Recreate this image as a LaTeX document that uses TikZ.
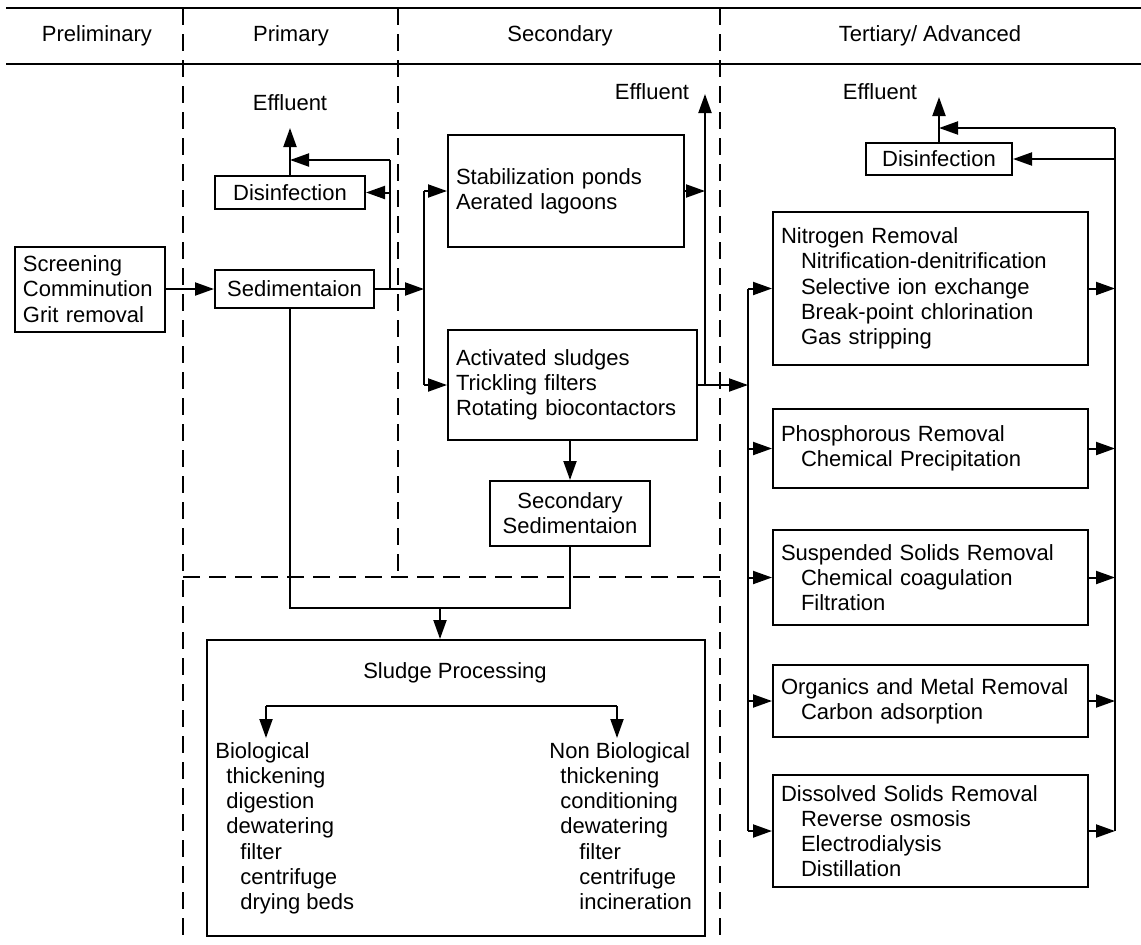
\documentclass[tikz,border=0pt]{standalone}
\usepackage{fontspec}
\setmainfont{Liberation Sans}
\usetikzlibrary{arrows.meta}
\tikzset{
  lbox/.style={draw, line width=1pt, align=left, inner xsep=4pt, inner ysep=0pt},
  cbox/.style={draw, line width=1pt, align=center, inner sep=0pt},
  arr/.style={line width=1pt, -{Triangle[length=9.5pt,width=6.5pt]}},
  ln/.style={line width=1pt},
  sep/.style={line width=1pt, dash pattern=on 8.5pt off 4.5pt},
}
\begin{document}
\begin{tikzpicture}[x=0.5pt, y=-0.5pt, font=\fontsize{11}{12.6}\selectfont]
\useasboundingbox (0,0) rectangle (1141,944);
% 表头
\draw[ln] (6,8) -- (1141,8);
\draw[ln] (6,64) -- (1141,64);
\draw[sep] (183,8) -- (183,944);
\draw[sep] (398,8) -- (398,577);
\draw[sep] (720,8) -- (720,944);
\draw[sep] (183,577) -- (720,577);
\node (hpre) at (97,36) {Preliminary};
\node (hpri) at (291,36) {Primary};
\node (hsec) at (560,36) {Secondary};
\node (hter) at (930,36) {Tertiary/ Advanced};
% 预处理和一级
\node[lbox, text width=67pt, minimum height=42.5pt] (scr) at (90,289) {Screening\\Comminution\\Grit removal};
\node[cbox, minimum width=79.5pt, minimum height=19pt] (sed1) at (294.5,289) {Sedimentaion};
\node[cbox, minimum width=75pt, minimum height=16.5pt] (dis1) at (290,192.5) {Disinfection};
\node (eff1) at (290,103) {Effluent};
% 二级
\node[lbox, text width=110pt, minimum height=56pt] (stab) at (566,191) {Stabilization ponds\\Aerated lagoons};
\node[lbox, text width=116.5pt, minimum height=55pt] (act) at (572.5,385) {Activated sludges\\Trickling filters\\Rotating biocontactors};
\node[cbox, minimum width=80pt, minimum height=32.5pt] (sed2) at (570,513.5) {Secondary\\Sedimentaion};
\node (eff2) at (652,92) {Effluent};
% 三级
\node[cbox, minimum width=73pt, minimum height=16pt] (dis3) at (939,159) {Disinfection};
\node (eff3) at (880,92) {Effluent};
\node[lbox, text width=149.5pt, minimum height=76.5pt] (nit) at (930.5,288.5) {Nitrogen Removal\\\hspace*{10pt}Nitrification-denitrification\\\hspace*{10pt}Selective ion exchange\\\hspace*{10pt}Break-point chlorination\\\hspace*{10pt}Gas stripping};
\node[lbox, text width=149.5pt, minimum height=39.5pt] (pho) at (930.5,448.5) {Phosphorous Removal\\\hspace*{10pt}Chemical Precipitation};
\node[lbox, text width=149.5pt, minimum height=47.5pt] (sus) at (930.5,577.5) {Suspended Solids Removal\\\hspace*{10pt}Chemical coagulation\\\hspace*{10pt}Filtration};
\node[lbox, text width=149.5pt, minimum height=36pt] (org) at (930.5,701) {Organics and Metal Removal\\\hspace*{10pt}Carbon adsorption};
\node[lbox, text width=149.5pt, minimum height=56pt] (dsv) at (930.5,831) {Dissolved Solids Removal\\\hspace*{10pt}Reverse osmosis\\\hspace*{10pt}Electrodialysis\\\hspace*{10pt}Distillation};
% 污泥处理
\node[draw, line width=1pt, inner sep=0pt, minimum width=249pt, minimum height=148pt] (sludge) at (456,788) {};
\node (sptitle) at (455,673) {Sludge Processing};
\node[anchor=north west, align=left, inner sep=0pt] (bio) at (215,742) {Biological\\\hspace*{5.5pt}thickening\\\hspace*{5.5pt}digestion\\\hspace*{5.5pt}dewatering\\\hspace*{12.5pt}filter\\\hspace*{12.5pt}centrifuge\\\hspace*{12.5pt}drying beds};
\node[anchor=north west, align=left, inner sep=0pt] (nbio) at (549,742) {Non Biological\\\hspace*{5.5pt}thickening\\\hspace*{5.5pt}conditioning\\\hspace*{5.5pt}dewatering\\\hspace*{15pt}filter\\\hspace*{15pt}centrifuge\\\hspace*{15pt}incineration};
% 连线：一级
\coordinate (ja) at (390,289);
\coordinate (jb) at (424,289);
\coordinate (jc) at (390,160);
\coordinate (out1) at (290,128);
\draw[arr] (scr.east |- sed1.west) -- (sed1.west);
\draw[arr] (sed1.east) -- (jb);
\draw[ln] (ja) -- (jc);
\draw[arr] (jc) -- (jc -| out1);
\draw[arr] (ja |- dis1.east) -- (dis1.east);
\draw[arr] (dis1.north -| out1) -- (out1);
% 连线：二级
\coordinate (out2) at (705,94);
\draw[ln] (jb |- stab.west) -- (jb |- act.west);
\draw[arr] (jb |- stab.west) -- (stab.west);
\draw[arr] (jb |- act.west) -- (act.west);
\draw[arr] (stab.east) -- (stab.east -| out2);
\draw[arr] (act.east -| out2) -- (out2);
\draw[arr] (sed2.north |- act.south) -- (sed2.north);
% 连线：三级
\coordinate (tin) at (748,385);
\coordinate (tout) at (1115,128);
\coordinate (out3) at (939,97);
\draw[arr] (act.east) -- (tin);
\draw[ln] (tin |- nit.west) -- (tin |- dsv.west);
\foreach \b in {nit,pho,sus,org,dsv} \draw[arr] (tin |- \b.west) -- (\b.west);
\draw[ln] (tout) -- (tout |- dsv.east);
\foreach \b in {nit,pho,sus,org,dsv} \draw[arr] (\b.east) -- (\b.east -| tout);
\draw[arr] (tout |- dis3.east) -- (dis3.east);
\draw[arr] (tout) -- (tout -| out3);
\draw[arr] (dis3.north) -- (out3);
% 连线：污泥
\coordinate (sl) at (290,608);
\coordinate (sj) at (440,608);
\coordinate (bl) at (266,706);
\coordinate (br) at (617,706);
\draw[ln] (sed1.south -| sl) -- (sl) -| (sed2.south);
\draw[arr] (sj) -- (sj |- sludge.north);
\draw[ln] (bl) -- (br);
\draw[arr, shorten >=2pt] (bl) -- (bl |- bio.north);
\draw[arr, shorten >=2pt] (br) -- (br |- nbio.north);
\end{tikzpicture}
\end{document}
